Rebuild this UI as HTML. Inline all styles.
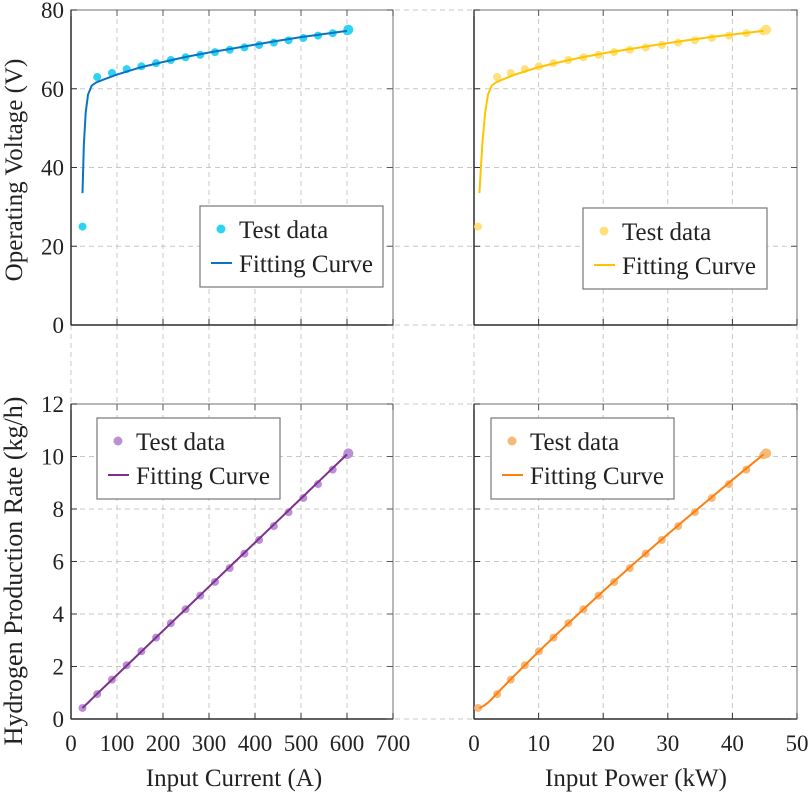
<!DOCTYPE html>
<html><head><meta charset="utf-8">
<style>
html,body{margin:0;padding:0;background:#fff}
svg{display:block}
svg text{font-family:"Liberation Serif","Times New Roman","DejaVu Serif",serif;fill:#222}
</style></head>
<body>
<svg id="fig" width="809" height="792" viewBox="0 0 809 792" font-family="Liberation Serif, Times New Roman, DejaVu Serif, serif" xmlns="http://www.w3.org/2000/svg"></svg>
<script>
const currents=[25,57,89,121,153,185,217,249,281,313,345,377,409,441,473,505,537,569,600,603];
const voltages=[25,63,64,65,65.7,66.5,67.3,68,68.6,69.3,69.9,70.5,71.1,71.7,72.3,72.9,73.5,74.1,74.6,75];
const h2rates=[0.42,0.95,1.5,2.05,2.58,3.1,3.65,4.18,4.7,5.22,5.75,6.3,6.82,7.35,7.88,8.42,8.95,9.5,10.05,10.12];
const fitCurrent=[25,28,32,37,45,55,70,100,150,200,250,300,350,400,450,500,550,600];
const fitVoltage=[33.5,46,54,58.5,60.8,61.6,62.3,63.6,65.4,66.8,68.1,69.2,70.2,71.2,72.2,73.1,73.9,74.7];
const fitH2=[0.42,0.47,0.54,0.62,0.76,0.93,1.18,1.68,2.52,3.36,4.2,5.04,5.88,6.72,7.56,8.4,9.24,10.08];
const xTicksI=[0,100,200,300,400,500,600,700];
const xTicksP=[0,10,20,30,40,50];
const yTicksV=[0,20,40,60,80];
const yTicksH=[0,2,4,6,8,10,12];

const NS="http://www.w3.org/2000/svg";
const FONT='"Liberation Serif","Times New Roman","DejaVu Serif",serif';
const svg=document.getElementById('fig');
function mk(tag,attrs,parent){const e=document.createElementNS(NS,tag);for(const k in attrs)e.setAttribute(k,attrs[k]);if(tag==='text')e.style.fontFamily=FONT;(parent||svg).appendChild(e);return e;}

const L={x0:71,x1:393},R={x0:474,x1:797},T={y0:10,y1:325},B={y0:404,y1:719};
const sx=(p,max)=>v=>p.x0+(p.x1-p.x0)*v/max;
const sy=(p,max)=>v=>p.y1-(p.y1-p.y0)*v/max;
const xI=sx(L,700),xP=sx(R,50),yV=sy(T,80),yH=sy(B,12);

const grid=mk('g',{stroke:'#c8c8c8','stroke-width':1,'stroke-dasharray':'5,4'});


xTicksI.forEach(t=>mk('line',{x1:xI(t),x2:xI(t),y1:10,y2:719},grid));
xTicksP.forEach(t=>mk('line',{x1:xP(t),x2:xP(t),y1:10,y2:719},grid));
yTicksV.forEach(t=>mk('line',{x1:71,x2:797,y1:yV(t),y2:yV(t)},grid));
yTicksH.forEach(t=>mk('line',{x1:71,x2:797,y1:yH(t),y2:yH(t)},grid));

function panel(name,px,py,xs,ys,xt,yt,showX,showY,xv,yv,fx,fy,ptCol,lnCol,leg){
  const g=mk('g',{});
  
  
  mk('rect',{x:px.x0,y:py.y0,width:px.x1-px.x0,height:py.y1-py.y0,fill:'none',stroke:'#888','stroke-width':1.2},g);
  mk('line',{x1:px.x0,x2:px.x0,y1:py.y0,y2:py.y1,stroke:'#333','stroke-width':1.5},g);
  mk('line',{x1:px.x0,x2:px.x1,y1:py.y1,y2:py.y1,stroke:'#333','stroke-width':1.5},g);
  xt.forEach(t=>{
    mk('line',{x1:xs(t),x2:xs(t),y1:py.y1,y2:py.y1-6,stroke:'#333'},g);
    mk('line',{x1:xs(t),x2:xs(t),y1:py.y0,y2:py.y0+6,stroke:'#555'},g);
    if(showX){const tx=mk('text',{x:xs(t),y:py.y1+32,'text-anchor':'middle','font-size':23},g);tx.textContent=t;}
  });
  yt.forEach(t=>{
    mk('line',{x1:px.x0,x2:px.x0+6,y1:ys(t),y2:ys(t),stroke:'#333'},g);
    mk('line',{x1:px.x1,x2:px.x1-6,y1:ys(t),y2:ys(t),stroke:'#555'},g);
    if(showY){const tx=mk('text',{x:px.x0-7,y:ys(t)+8,'text-anchor':'end','font-size':23},g);tx.textContent=t;}
  });
  xv.forEach((v,i)=>{const c=mk('circle',{cx:xs(v),cy:ys(yv[i]),r:i==xv.length-1?5:4,fill:ptCol},g);
    
    });
  const p=mk('polyline',{points:fx.map((v,i)=>xs(v)+','+ys(fy[i])).join(' '),fill:'none',stroke:lnCol,'stroke-width':2},g);
  
  
  const lg=mk('g',{},g);
  
  
  mk('rect',{x:leg[0],y:leg[1],width:leg[2],height:81,fill:'#fff',stroke:'#777','stroke-width':1.2},lg);
  mk('circle',{cx:leg[0]+21,cy:leg[1]+23,r:4.5,fill:ptCol},lg);
  mk('line',{x1:leg[0]+11,x2:leg[0]+32,y1:leg[1]+57,y2:leg[1]+57,stroke:lnCol,'stroke-width':2},lg);
  let t1=mk('text',{x:leg[0]+39,y:leg[1]+32,'font-size':25},lg);t1.textContent='Test data';
  let t2=mk('text',{x:leg[0]+39,y:leg[1]+66,'font-size':25},lg);t2.textContent='Fitting Curve';
}
const power=currents.map((c,i)=>c*voltages[i]/1000);
const fitPower=fitCurrent.map((c,i)=>c*fitVoltage[i]/1000);
panel('voltage-vs-current',L,T,xI,yV,xTicksI,yTicksV,false,true,currents,voltages,fitCurrent,fitVoltage,'#2fd3f2','#0a74c4',[200,206,183]);
panel('voltage-vs-power',R,T,xP,yV,xTicksP,yTicksV,false,false,power,voltages,fitPower,fitVoltage,'#ffe07a','#ffc400',[583,208,184]);
panel('h2-vs-current',L,B,xI,yH,xTicksI,yTicksH,true,true,currents,h2rates,fitCurrent,fitH2,'#bb90d4','#7e2f8e',[97,418,183]);
panel('h2-vs-power',R,B,xP,yH,xTicksP,yTicksH,true,false,power,h2rates,fitPower,fitH2,'#f8b878','#ff7f0e',[491,418,183]);

function label(txt,x,y,rot,fs,name){const t=mk('text',{x:x,y:y,'text-anchor':'middle','font-size':fs,transform:rot?`rotate(-90 ${x} ${y})`:''});t.textContent=txt;
  
  }
label('Operating Voltage (V)',22,170,true,25,'y-axis-title-voltage');
label('Hydrogen Production Rate (kg/h)',22,571,true,26,'y-axis-title-h2');
label('Input Current (A)',234,786,false,25,'x-axis-title-current');
label('Input Power (kW)',636,786,false,25,'x-axis-title-power');
</script>
</body></html>
